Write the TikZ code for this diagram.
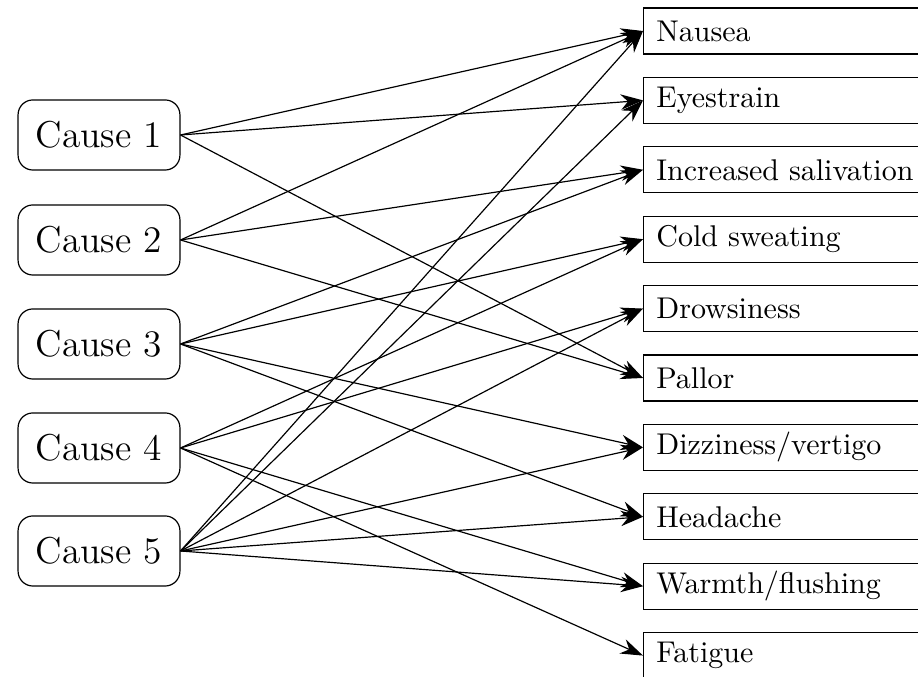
\documentclass[tikz,border=0pt]{standalone}
\usetikzlibrary{arrows.meta}
\begin{document}
\begin{tikzpicture}[x=0.3367pt,y=-0.3367pt,
  cause/.style={draw, rounded corners=5pt, minimum width=54.5pt, minimum height=23.6pt, font=\fontsize{12.6pt}{15pt}\selectfont, inner sep=0pt},
  symp/.style={draw, anchor=west, minimum height=15.5pt, text width=95pt, align=left, inner xsep=4.3pt, inner ysep=0pt, font=\fontsize{10.1pt}{12pt}\selectfont},
  conn/.style={-{Stealth[length=7.5pt,width=5.2pt]}}]
\clip (0,0) rectangle (918,677);
\node[cause] (c1) at (99,135) {Cause 1};
\node[cause] (c2) at (99,240) {Cause 2};
\node[cause] (c3) at (99,344) {Cause 3};
\node[cause] (c4) at (99,448) {Cause 4};
\node[cause] (c5) at (99,551) {Cause 5};
\node[symp] (s1) at (643,31) {Nausea};
\node[symp] (s2) at (643,100.4) {Eyestrain};
\node[symp] (s3) at (643,169.8) {Increased salivation};
\node[symp] (s4) at (643,239.2) {Cold sweating};
\node[symp] (s5) at (643,308.6) {Drowsiness};
\node[symp] (s6) at (643,378) {Pallor};
\node[symp] (s7) at (643,447.4) {Dizziness/vertigo};
\node[symp] (s8) at (643,516.8) {Headache};
\node[symp] (s9) at (643,586.2) {Warmth/flushing};
\node[symp] (s10) at (643,655.6) {Fatigue};
\foreach \a/\b in {c1/s1,c1/s2,c1/s6,
                   c2/s1,c2/s3,c2/s6,
                   c3/s3,c3/s4,c3/s7,c3/s8,
                   c4/s4,c4/s5,c4/s9,c4/s10,
                   c5/s1,c5/s2,c5/s5,c5/s7,c5/s8,c5/s9}
  \draw[conn] (\a.east) -- (\b.west);
\end{tikzpicture}
\end{document}
